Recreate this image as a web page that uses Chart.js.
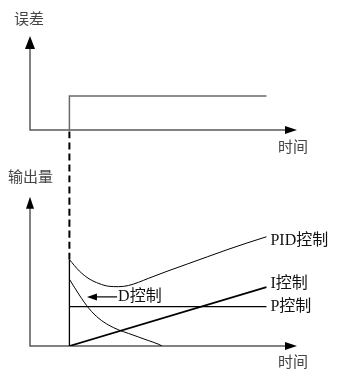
<!DOCTYPE html>
<html>
<head>
<meta charset="utf-8">
<script src="https://cdn.jsdelivr.net/npm/chart.js@4/dist/chart.umd.min.js"></script>
<style>
  html, body { margin: 0; padding: 0; background: #fff; }
  #wrap { position: relative; width: 337px; height: 370px; }
</style>
</head>
<body>
<div id="wrap"><canvas id="pid-chart" width="337" height="370"></canvas></div>
<script>
// time axis: origin at t=0, error step at t=2
const errT = [2, 2, 12];
const errV = [0, 1, 1];

const pidT = [2, 2.5, 3, 3.5, 4, 4.5, 5, 5.5, 6, 7, 8, 9, 10, 11, 12];
const pidV = [2.2, 1.91, 1.71, 1.59, 1.52, 1.51, 1.54, 1.62, 1.72, 1.91, 2.09, 2.27, 2.45, 2.62, 2.78];

const dT = [2, 2.5, 3, 3.5, 4, 4.5, 5, 5.5, 6, 6.5, 6.7];
const dV = [1.7, 1.3, 0.95, 0.7, 0.53, 0.41, 0.32, 0.23, 0.14, 0.05, 0];

const iT = [2, 12];
const iV = [0, 1.5];

const pT = [2, 12];
const pV = [1, 1];

// jump at t=2: solid part in the output panel, dashed link up to the error panel
const jumpT = [2, 2];
const jumpV = [0, 2.2];
const linkT = [2, 2];
const linkV = [2.2, 5.5];

const curveLabels = ['PID控制', 'I控制', 'P控制'];
const axisLabels = { err: '误差', out: '输出量', time: '时间' };
const dNote = 'D控制';

const pts = (xs, ys) => xs.map((x, i) => ({ x, y: ys[i] }));

const latinCjk = "'Liberation Serif', 'Noto Sans CJK SC', serif";
const cjk = "'Noto Sans CJK SC', sans-serif";

function arrowHead(ctx, x, y, dir, len, half) {
  ctx.beginPath();
  if (dir === 'up') { ctx.moveTo(x, y); ctx.lineTo(x - half, y + len); ctx.lineTo(x + half, y + len); }
  else if (dir === 'right') { ctx.moveTo(x, y); ctx.lineTo(x - len, y - half); ctx.lineTo(x - len, y + half); }
  else { ctx.moveTo(x, y); ctx.lineTo(x + len, y - half); ctx.lineTo(x + len, y + half); }
  ctx.closePath();
  ctx.fill();
}

const axesPlugin = {
  id: 'axesPlugin',
  beforeDatasetsDraw(chart) {
    const { ctx, scales: { x, yErr, yOut } } = chart;
    const x0 = x.getPixelForValue(0), x1 = x.getPixelForValue(x.max);
    ctx.save();
    ctx.strokeStyle = '#5a5a5a';
    ctx.fillStyle = '#000';
    ctx.lineWidth = 1.5;
    // error panel
    const e0 = yErr.getPixelForValue(0), eTop = yErr.getPixelForValue(yErr.max);
    ctx.beginPath();
    ctx.moveTo(x0, eTop + 8); ctx.lineTo(x0, e0); ctx.lineTo(x1 - 8, e0);
    ctx.stroke();
    arrowHead(ctx, x0, eTop, 'up', 13, 5);
    arrowHead(ctx, x1, e0, 'right', 12, 4);
    // output panel
    const o0 = yOut.getPixelForValue(0), oTop = yOut.getPixelForValue(3.8);
    ctx.beginPath();
    ctx.moveTo(x0, oTop + 8); ctx.lineTo(x0, o0); ctx.lineTo(x1 - 8, o0);
    ctx.stroke();
    arrowHead(ctx, x0, oTop, 'up', 12, 4);
    arrowHead(ctx, x1, o0, 'right', 12, 4);
    ctx.restore();
  },
  afterDraw(chart) {
    const { ctx, scales: { x, yErr, yOut } } = chart;
    const x0 = x.getPixelForValue(0), x1 = x.getPixelForValue(x.max);
    ctx.save();
    ctx.textBaseline = 'middle';
    ctx.textAlign = 'left';
    ctx.fillStyle = '#444';
    ctx.font = '15px ' + cjk;
    ctx.fillText(axisLabels.err, x0 - 16, yErr.getPixelForValue(yErr.max) - 18);
    ctx.fillText(axisLabels.time, x1 - 19, yErr.getPixelForValue(0) + 16);
    ctx.fillText(axisLabels.out, x0 - 22, yOut.getPixelForValue(3.8) - 20);
    ctx.fillText(axisLabels.time, x1 - 19, yOut.getPixelForValue(0) + 15);

    // curve end labels
    ctx.fillStyle = '#111';
    ctx.font = '16px ' + latinCjk;
    const ends = [[pidT, pidV, 4], [iT, iV, -3], [pT, pV, 0]];
    ends.forEach(([ts, vs, dy], k) => {
      const n = ts.length - 1;
      ctx.fillText(curveLabels[k], x.getPixelForValue(ts[n]) + 4, yOut.getPixelForValue(vs[n]) + dy);
    });

    // D note with arrow pointing at the D curve
    const ay = yOut.getPixelForValue(1.25);
    const ax0 = x.getPixelForValue(4.42), ax1 = x.getPixelForValue(2.89);
    ctx.strokeStyle = '#000';
    ctx.fillStyle = '#000';
    ctx.lineWidth = 1.2;
    ctx.beginPath(); ctx.moveTo(ax0, ay); ctx.lineTo(ax1 + 8, ay); ctx.stroke();
    arrowHead(ctx, ax1, ay, 'left', 10, 3.5);
    ctx.fillStyle = '#111';
    ctx.fillText(dNote, ax0 + 1, ay);
    ctx.restore();
  }
};

const line = (data, yAxisID, extra) => Object.assign({
  data, yAxisID, borderColor: '#000', borderWidth: 1, pointRadius: 0,
  fill: false, cubicInterpolationMode: 'monotone'
}, extra);

new Chart(document.getElementById('pid-chart').getContext('2d'), {
  type: 'line',
  data: {
    datasets: [
      line(pts(errT, errV), 'yErr', { borderColor: '#6a6a6a', borderWidth: 1.5 }),
      line(pts(jumpT, jumpV), 'yOut', { borderWidth: 1.3 }),
      line(pts(linkT, linkV), 'yOut', { borderWidth: 2, borderDash: [7, 4] }),
      line(pts(pidT, pidV), 'yOut'),
      line(pts(dT, dV), 'yOut'),
      line(pts(iT, iV), 'yOut', { borderWidth: 1.8 }),
      line(pts(pT, pV), 'yOut', { borderWidth: 1.2 }),
    ],
  },
  options: {
    responsive: false,
    animation: false,
    devicePixelRatio: 1,
    layout: { padding: { left: 30, right: 40, top: 36, bottom: 24 } },
    plugins: { legend: { display: false }, tooltip: { enabled: false } },
    scales: {
      x: { type: 'linear', min: 0, max: 13.55, display: false },
      yErr: { type: 'linear', min: -6.353, max: 2.765, display: false },
      yOut: { type: 'linear', min: 0, max: 7.89, display: false },
    },
  },
  plugins: [axesPlugin],
});
</script>
</body>
</html>
